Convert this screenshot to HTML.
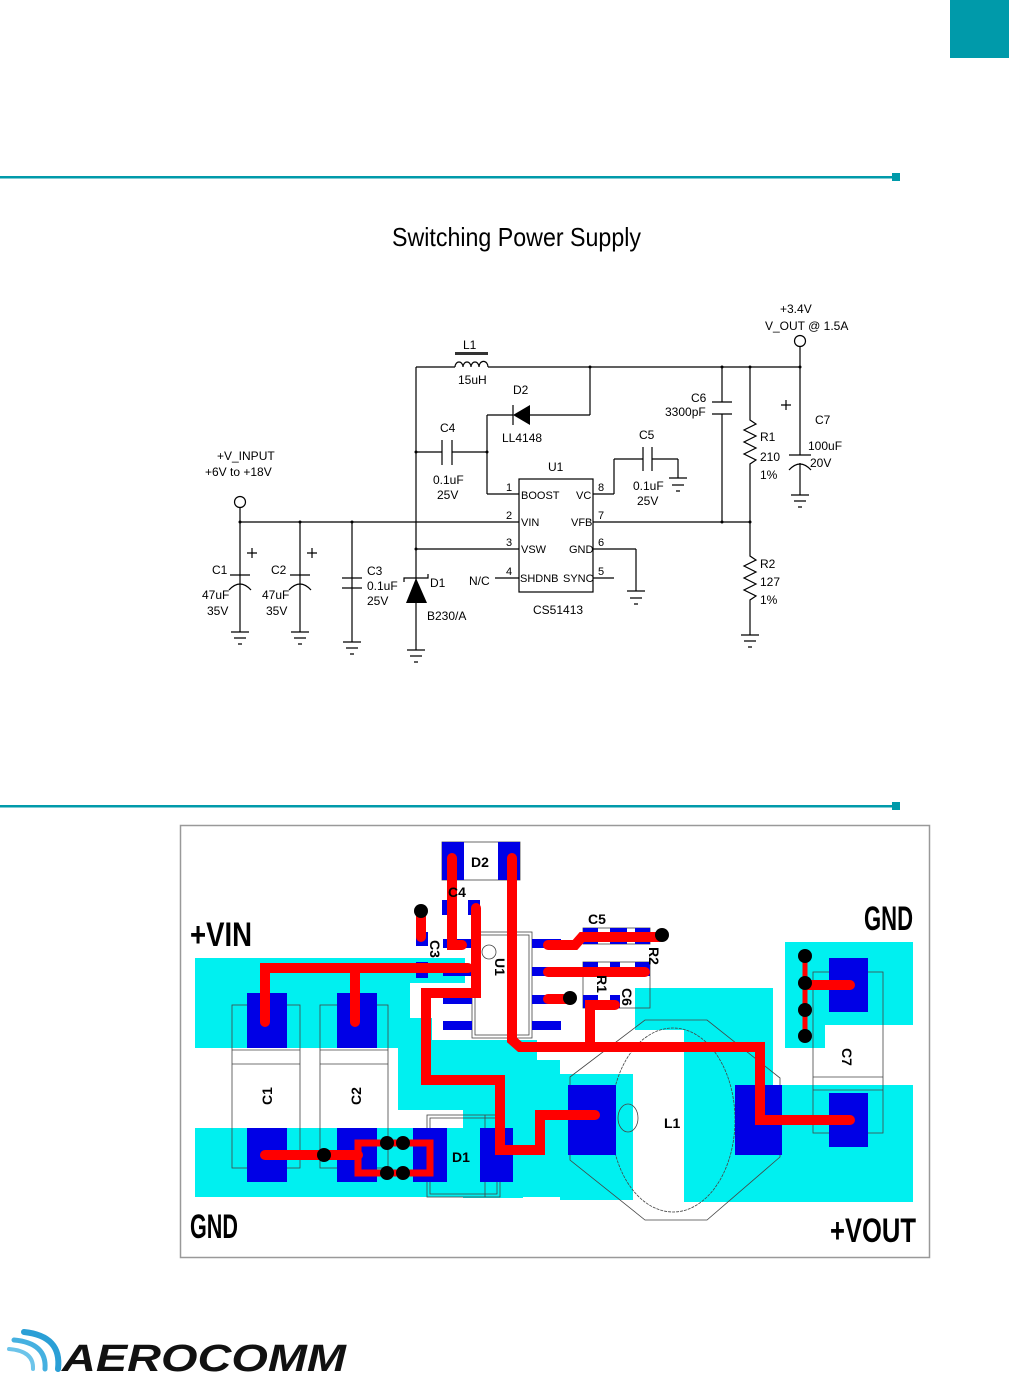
<!DOCTYPE html>
<html><head><meta charset="utf-8"><style>
html,body{margin:0;padding:0;background:#fff;}
svg{display:block;}
.s{font-family:"Liberation Sans",sans-serif;font-size:12px;fill:#000;}
.p{font-family:"Liberation Sans",sans-serif;font-weight:bold;fill:#000;}
</style></head><body>
<svg width="1009" height="1377" viewBox="0 0 1009 1377" xmlns="http://www.w3.org/2000/svg">
<rect x="0" y="0" width="1009" height="1377" fill="#fff"/>
<rect x="950" y="0" width="59" height="58" fill="#009aaa"/>
<rect x="0" y="176" width="893" height="2.5" fill="#009aaa"/>
<rect x="892" y="173" width="8" height="8" fill="#009aaa"/>
<rect x="0" y="805" width="893" height="2.5" fill="#009aaa"/>
<rect x="892" y="802" width="8" height="8" fill="#009aaa"/>

<text x="392" y="246" font-family="Liberation Sans,sans-serif" font-size="26" textLength="249" lengthAdjust="spacingAndGlyphs">Switching  Power  Supply</text>

<g stroke="#000" stroke-width="1.2" fill="none">
<line x1="416" y1="367" x2="455" y2="367"/>
<line x1="488" y1="367" x2="800" y2="367"/>
<path d="M455 367 a4 5 0 0 1 8 0 a4 5 0 0 1 8 0 a4 5 0 0 1 8 0 a4 5 0 0 1 9 0"/>
<line x1="416" y1="367" x2="416" y2="650"/>
<line x1="590" y1="367" x2="590" y2="415"/>
<line x1="590" y1="415" x2="530" y2="415"/>
<line x1="513" y1="415" x2="487" y2="415"/>
<line x1="487" y1="415" x2="487" y2="494"/>
<line x1="487" y1="494" x2="519" y2="494"/>
<line x1="513" y1="405" x2="513" y2="425"/>
<line x1="416" y1="452" x2="442" y2="452"/>
<line x1="452" y1="452" x2="487" y2="452"/>
<line x1="442" y1="440" x2="442" y2="465"/>
<line x1="452" y1="440" x2="452" y2="465"/>
<rect x="519" y="479" width="74" height="113"/>
<line x1="240" y1="522" x2="519" y2="522"/>
<line x1="416" y1="549" x2="519" y2="549"/>
<line x1="495" y1="578" x2="519" y2="578"/>
<line x1="593" y1="494" x2="614" y2="494"/>
<line x1="614" y1="494" x2="614" y2="459"/>
<line x1="614" y1="459" x2="643" y2="459"/>
<line x1="643" y1="447" x2="643" y2="471"/>
<line x1="652" y1="447" x2="652" y2="471"/>
<line x1="652" y1="459" x2="678" y2="459"/>
<line x1="678" y1="459" x2="678" y2="478"/>
<line x1="593" y1="522" x2="750" y2="522"/>
<line x1="593" y1="549" x2="636" y2="549"/>
<line x1="636" y1="549" x2="636" y2="591"/>
<line x1="593" y1="578" x2="614" y2="578"/>
<line x1="722" y1="367" x2="722" y2="402"/>
<line x1="712" y1="402" x2="732" y2="402"/>
<path d="M712 414 L732 414"/>
<line x1="722" y1="414" x2="722" y2="522"/>
<path d="M750 367 V420 l6 4 l-12 6 l12 6 l-12 6 l12 6 l-12 6 l12 6 l-6 4 V522"/>
<path d="M750 522 V556 l6 4 l-12 6 l12 6 l-12 6 l12 6 l-12 6 l12 6 l-6 4 V635"/>
<line x1="800" y1="347" x2="800" y2="455"/>
<line x1="789" y1="455" x2="811" y2="455"/>
<path d="M789 470 Q800 458 811 470"/>
<line x1="800" y1="463" x2="800" y2="495"/>
<circle cx="800" cy="341" r="5.5"/>
<circle cx="240" cy="502" r="5.5"/>
<line x1="240" y1="508" x2="240" y2="632"/>
<line x1="230" y1="575" x2="250" y2="575"/>
<path d="M229 590 Q240 578 251 590"/>
<line x1="300" y1="522" x2="300" y2="632"/>
<line x1="290" y1="575" x2="310" y2="575"/>
<path d="M289 590 Q300 578 311 590"/>
<line x1="352" y1="522" x2="352" y2="642"/>
<line x1="342" y1="578" x2="362" y2="578"/>
<line x1="342" y1="588" x2="362" y2="588"/>
<path d="M404 582 V578 H428 V574"/>
<path d="M231 632 H249 M234 638 H246 M238 644 H242"/>
<path d="M291 632 H309 M294 638 H306 M298 644 H302"/>
<path d="M343 642 H361 M346 648 H358 M350 654 H354"/>
<path d="M407 650 H425 M410 656 H422 M414 662 H418"/>
<path d="M669 478 H687 M672 485 H684 M676 491 H680"/>
<path d="M627 591 H645 M630 598 H642 M634 604 H638"/>
<path d="M741 635 H759 M744 641 H756 M748 647 H752"/>
<path d="M791 495 H809 M794 501 H806 M798 507 H802"/>
<path d="M252 548 v10 M247 553 h10 M312 548 v10 M307 553 h10 M786 400 v10 M781 405 h10"/>
</g>
<rect x="455" y="352" width="33" height="3" fill="#333"/>
<polygon points="513,415 530,405 530,425" fill="#000"/>
<polygon points="416,578 406,603 427,603" fill="#000"/>
<g fill="#000">
<circle cx="416" cy="452" r="1.5"/><circle cx="487" cy="452" r="1.5"/><circle cx="416" cy="549" r="1.5"/>
<circle cx="590" cy="367" r="1.5"/><circle cx="722" cy="367" r="1.5"/><circle cx="750" cy="367" r="1.5"/><circle cx="800" cy="367" r="1.5"/>
<circle cx="240" cy="522" r="1.5"/><circle cx="300" cy="522" r="1.5"/><circle cx="352" cy="522" r="1.5"/>
<circle cx="722" cy="522" r="1.5"/><circle cx="750" cy="522" r="1.5"/>
</g>
<g class="s">
<text x="463" y="349">L1</text>
<text x="458" y="384">15uH</text>
<text x="513" y="394">D2</text>
<text x="502" y="442">LL4148</text>
<text x="440" y="432">C4</text>
<text x="433" y="484">0.1uF</text>
<text x="437" y="499">25V</text>
<text x="548" y="471">U1</text>
<text x="506" y="491" font-size="11">1</text><text x="506" y="519" font-size="11">2</text><text x="506" y="546" font-size="11">3</text><text x="506" y="575" font-size="11">4</text>
<text x="598" y="491" font-size="11">8</text><text x="598" y="519" font-size="11">7</text><text x="598" y="546" font-size="11">6</text><text x="598" y="575" font-size="11">5</text>
<text x="521" y="499" font-size="11">BOOST</text><text x="521" y="526" font-size="11">VIN</text><text x="521" y="553" font-size="11">VSW</text><text x="520" y="582" font-size="11">SHDNB</text>
<text x="576" y="499" font-size="11">VC</text><text x="571" y="526" font-size="11">VFB</text><text x="569" y="553" font-size="11">GND</text><text x="563" y="582" font-size="11">SYNC</text>
<text x="469" y="585">N/C</text>
<text x="533" y="614">CS51413</text>
<text x="639" y="439">C5</text>
<text x="633" y="490">0.1uF</text>
<text x="637" y="505">25V</text>
<text x="691" y="402">C6</text>
<text x="665" y="416">3300pF</text>
<text x="760" y="441">R1</text><text x="760" y="461">210</text><text x="760" y="479">1%</text>
<text x="760" y="568">R2</text><text x="760" y="586">127</text><text x="760" y="604">1%</text>
<text x="815" y="424">C7</text><text x="808" y="450">100uF</text><text x="810" y="467">20V</text>
<text x="780" y="313">+3.4V</text>
<text x="765" y="330">V_OUT @ 1.5A</text>
<text x="217" y="460">+V_INPUT</text>
<text x="205" y="476">+6V  to  +18V</text>
<text x="212" y="574">C1</text><text x="202" y="599">47uF</text><text x="207" y="615">35V</text>
<text x="271" y="574">C2</text><text x="262" y="599">47uF</text><text x="266" y="615">35V</text>
<text x="367" y="575">C3</text><text x="367" y="590">0.1uF</text><text x="367" y="605">25V</text>
<text x="430" y="587">D1</text>
<text x="427" y="620">B230/A</text>
</g>

<rect x="180.5" y="825.5" width="749" height="432" fill="#fff" stroke="#999" stroke-width="1.5"/>
<g fill="#00f0f0">
<rect x="195" y="958" width="215" height="90"/>
<rect x="410" y="958" width="55" height="25"/>
<rect x="195" y="1128" width="320" height="69"/>
<rect x="398" y="1018" width="34" height="92"/>
<rect x="432" y="1040" width="105" height="70"/>
<rect x="480" y="1060" width="80" height="137"/>
<rect x="463" y="1110" width="60" height="88"/>
<rect x="635" y="988" width="138" height="42"/>
<rect x="560" y="1074" width="73" height="126"/>
<rect x="684" y="988" width="89" height="214"/>
<rect x="684" y="1085" width="229" height="117"/>
<rect x="785" y="942" width="128" height="83"/>
<rect x="785" y="1025" width="40" height="23"/>
</g>
<g fill="none" stroke="#444" stroke-width="0.8">
<rect x="232" y="1005" width="68" height="163"/><line x1="232" y1="1050" x2="300" y2="1050"/><line x1="232" y1="1064" x2="300" y2="1064"/>
<rect x="320" y="1005" width="68" height="163"/><line x1="320" y1="1050" x2="388" y2="1050"/><line x1="320" y1="1064" x2="388" y2="1064"/>
<rect x="427" y="1115" width="73" height="82"/><rect x="430" y="1118" width="67" height="76"/><line x1="485" y1="1115" x2="485" y2="1197"/>
<rect x="442" y="842" width="78" height="38"/>
<rect x="472" y="932" width="60" height="106"/><rect x="475" y="935" width="54" height="100"/>
<circle cx="489" cy="952" r="7"/>
<rect x="583" y="928" width="67" height="16"/>
<rect x="583" y="962" width="67" height="46"/>
<polygon points="645,1020 707,1020 780,1078 780,1157 707,1220 645,1220 570,1160 570,1077"/>
<ellipse cx="673" cy="1120" rx="62" ry="92" stroke-dasharray="3,1"/>
<ellipse cx="628" cy="1118" rx="10" ry="14"/>
<rect x="813" y="972" width="70" height="161"/><line x1="813" y1="1077" x2="883" y2="1077"/><line x1="813" y1="1090" x2="883" y2="1090"/>
</g>
<g fill="#0000e6">
<rect x="247" y="993" width="40" height="55"/><rect x="337" y="993" width="40" height="55"/>
<rect x="247" y="1128" width="40" height="54"/><rect x="337" y="1128" width="40" height="54"/>
<rect x="413" y="1128" width="34" height="54"/><rect x="480" y="1128" width="33" height="54"/>
<rect x="442" y="842" width="22" height="38"/><rect x="498" y="842" width="22" height="38"/>
<rect x="442" y="900" width="10" height="15"/><rect x="468" y="900" width="12" height="15"/>
<rect x="416" y="932" width="12" height="14"/><rect x="416" y="962" width="12" height="16"/>
<rect x="443" y="939" width="29" height="9"/><rect x="443" y="967" width="29" height="9"/><rect x="443" y="995" width="29" height="9"/><rect x="443" y="1021" width="29" height="9"/>
<rect x="532" y="939" width="29" height="9"/><rect x="532" y="967" width="29" height="9"/><rect x="532" y="995" width="29" height="9"/><rect x="532" y="1021" width="29" height="9"/>
<rect x="583" y="928" width="15" height="16"/><rect x="610" y="928" width="17" height="16"/><rect x="635" y="928" width="15" height="16"/>
<rect x="583" y="962" width="15" height="14"/><rect x="610" y="962" width="10" height="14"/><rect x="635" y="962" width="15" height="14"/>
<rect x="583" y="995" width="15" height="13"/><rect x="610" y="995" width="10" height="13"/>
<rect x="568" y="1085" width="48" height="70"/><rect x="735" y="1085" width="47" height="70"/>
<rect x="829" y="958" width="39" height="54"/><rect x="829" y="1093" width="39" height="54"/>
</g>
<g fill="none" stroke="#f00" stroke-width="10" stroke-linecap="round" stroke-linejoin="miter">
<path d="M265 1022 V968 H468 M355 968 V1022"/>
<path d="M452 858 V945 H462"/>
<path d="M512 858 V1040 L520 1047 H760 V1120 H850"/>
<path d="M476 908 V993 H426 V1080 H500 V1150 H540 V1115 H595"/>
<path d="M548 945 H575 L582 937 H660"/>
<path d="M548 972 H645"/>
<path d="M548 999 H568"/>
<path d="M590 1047 V1005 H615"/>
<path d="M421 913 V937"/>
<path d="M265 1155 H358"/>
<path d="M358 1143 H430 V1173 H358 Z" stroke-width="7"/>
<path d="M805 985 H850"/>
<path d="M805 958 V1036" stroke-width="5"/>
</g>
<g fill="#000">
<circle cx="421" cy="911" r="7"/><circle cx="662" cy="935" r="7"/><circle cx="570" cy="998" r="7"/>
<circle cx="324" cy="1155" r="7"/><circle cx="387" cy="1143" r="7"/><circle cx="403" cy="1143" r="7"/><circle cx="387" cy="1173" r="7"/><circle cx="403" cy="1173" r="7"/>
<circle cx="805" cy="956" r="7"/><circle cx="805" cy="983" r="7"/><circle cx="805" cy="1010" r="7"/><circle cx="805" cy="1036" r="7"/>
</g>
<g class="p" font-size="14">
<text x="471" y="867">D2</text>
<text x="448" y="897">C4</text>
<text x="588" y="924">C5</text>
<text transform="translate(272,1105) rotate(-90)">C1</text>
<text transform="translate(361,1105) rotate(-90)">C2</text>
<text x="452" y="1162">D1</text>
<text x="664" y="1128">L1</text>
<text transform="translate(842,1048) rotate(90)">C7</text>
<text transform="translate(430,940) rotate(90)">C3</text>
<text transform="translate(495,958) rotate(90)">U1</text>
<text transform="translate(649,947) rotate(90)">R2</text>
<text transform="translate(597,975) rotate(90)">R1</text>
<text transform="translate(622,988) rotate(90)">C6</text>
</g>
<g class="p" font-size="34">
<text x="190" y="946" textLength="62" lengthAdjust="spacingAndGlyphs">+VIN</text>
<text x="190" y="1238" textLength="48" lengthAdjust="spacingAndGlyphs">GND</text>
<text x="864" y="930" textLength="49" lengthAdjust="spacingAndGlyphs">GND</text>
<text x="830" y="1242" textLength="86" lengthAdjust="spacingAndGlyphs">+VOUT</text>
</g>

<g fill="none" stroke-linecap="round">
<path d="M24 1332 Q62 1336 58 1369" stroke="#2a9fd6" stroke-width="6"/>
<path d="M14 1340 Q47 1343 45 1369" stroke="#45b0e0" stroke-width="5"/>
<path d="M9 1349 Q34 1351 33 1369" stroke="#6cc4ea" stroke-width="4"/>
</g>
<text x="62" y="1371" font-family="Liberation Sans,sans-serif" font-weight="900" font-style="italic" font-size="38" textLength="284" lengthAdjust="spacingAndGlyphs" fill="#111">AEROCOMM</text>
</svg>
</body></html>
